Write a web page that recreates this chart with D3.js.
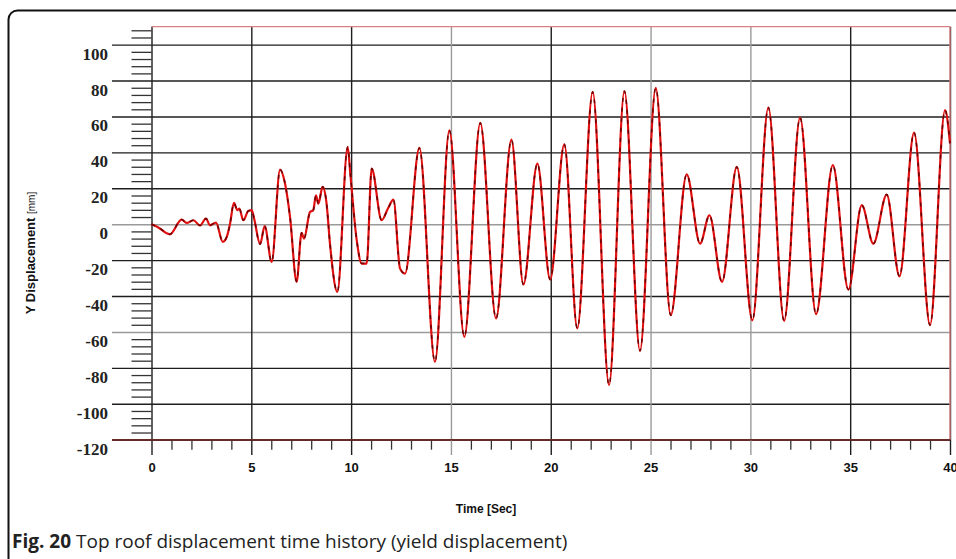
<!DOCTYPE html>
<html>
<head>
<meta charset="utf-8">
<script src="https://cdn.jsdelivr.net/npm/d3@7"></script>
<style>
  html, body { margin: 0; padding: 0; background: #fff; }
  svg { display: block; }
</style>
</head>
<body>
<svg id="chart" width="956" height="559"></svg>
<script>
// ---- data ----
const timeSec = [0, 0.3, 0.92, 1.51, 1.76, 2.1, 2.43, 2.73, 2.93, 3.23, 3.57, 3.77, 3.93, 4.13, 4.3, 4.4, 4.6, 4.85, 5.02, 5.14, 5.44, 5.67, 6.02, 6.44, 6.69, 6.94, 7.27, 7.52, 7.64, 7.94, 8.1, 8.24, 8.36, 8.57, 8.77, 8.94, 9.31, 9.83, 9.96, 10.28, 10.53, 10.78, 11.03, 11.53, 11.85, 12.12, 12.45, 12.7, 13.42, 14.2, 14.92, 15.67, 16.47, 17.26, 18.03, 18.63, 19.33, 19.97, 20.68, 21.33, 22.1, 22.92, 23.69, 24.47, 25.26, 26.01, 26.81, 27.48, 27.95, 28.58, 29.32, 30.1, 30.9, 31.69, 32.49, 33.29, 34.13, 34.91, 35.58, 36.16, 36.83, 37.47, 38.2, 39.0, 39.75, 40];
const yDisplacement = [0, -1.5, -5.6, 2.6, 0.7, 2.2, -0.7, 3.2, -0.6, 0.9, -9.8, -7, 0, 11.9, 7.8, 8.7, 2.2, 7.4, 7.8, 3.2, -11.1, -1.1, -21, 30.4, 22.6, 4, -32, -4.8, -8, 6.8, 7.8, 16.1, 11.5, 20.8, 11.5, -10.8, -37.7, 43, 28, -8.9, -21.9, -21.9, 31, 2.2, 8.9, 13.7, -24.7, -27.5, 42.5, -76.6, 52.3, -62.7, 56.4, -52.5, 47.1, -33.6, 33.8, -30.8, 44.5, -58, 73.7, -89.6, 74.1, -70.5, 75.9, -50.7, 27.8, -10.8, 5, -32.1, 31.9, -53.5, 65, -53.8, 59.4, -50.1, 32.9, -36.4, 10.6, -10.8, 16.5, -29, 51, -56.2, 63.5, 45];

const xTicks = [0, 5, 10, 15, 20, 25, 30, 35, 40];
const xMinorTicks = d3.range(1, 40).filter(d => d % 5 !== 0);
const yTicks = [100, 80, 60, 40, 20, 0, -20, -40, -60, -80, -100, -120];
const yMinorTicks = d3.range(-116, 110, 4).filter(d => d % 20 !== 0);
const grayY = [0, -60];
const grayX = [15, 25, 30];

const xTitle = "Time [Sec]";
const yTitle = "Y Displacement";
const yUnit = "[mm]";
const captionBold = "Fig. 20";
const captionText = " Top roof displacement time history (yield displacement)";

// ---- layout ----
const svg = d3.select("#chart");
const pLeft = 151.5, pRight = 950, pTop = 26.7, pBottom = 439.7;
const x = d3.scaleLinear().domain([0, 40]).range([pLeft, pRight]);
const y = d3.scaleLinear().domain([-120, 110]).range([pBottom, pTop]);

// outer rounded frame
svg.append("rect")
  .attr("x", 8.5).attr("y", 10.5).attr("width", 980).attr("height", 600)
  .attr("rx", 9).attr("ry", 9)
  .attr("fill", "none").attr("stroke", "#111").attr("stroke-width", 2);

// horizontal grid lines + y labels
const gy = svg.append("g").attr("transform", `translate(112,0)`)
  .call(d3.axisLeft(y).tickValues(yTicks).tickSize(-(pRight - 112)).tickPadding(4).tickFormat(d => String(d)));
gy.select(".domain").remove();
gy.selectAll(".tick line")
  .attr("stroke", d => d === -120 ? "#5e2a2a" : (grayY.includes(d) ? "#9a9a9a" : "#1e1e1e"))
  .attr("stroke-width", 1.4);
gy.selectAll(".tick text")
  .attr("y", 9)
  .attr("fill", "#222")
  .attr("font-family", null)
  .style("font-family", "'Liberation Serif', 'DejaVu Serif', serif")
  .style("font-weight", "bold")
  .style("font-size", "17px");

// y minor ticks
const gym = svg.append("g").attr("transform", `translate(${pLeft},0)`)
  .call(d3.axisLeft(y).tickValues(yMinorTicks).tickSize(20).tickFormat(""));
gym.select(".domain").remove();
gym.selectAll(".tick line").attr("stroke", "#333").attr("stroke-width", 1.3);

// vertical grid lines + x labels
const gx = svg.append("g").attr("transform", `translate(0,455)`)
  .call(d3.axisBottom(x).tickValues(xTicks).tickSize(-(455 - pTop)).tickPadding(8).tickFormat(d => String(d)));
gx.select(".domain").remove();
gx.selectAll(".tick line")
  .attr("stroke", d => grayX.includes(d) ? "#9a9a9a" : "#1e1e1e")
  .attr("stroke-width", 1.4);
gx.selectAll(".tick text")
  .attr("fill", "#111")
  .style("font-family", "'Liberation Sans', Arial, sans-serif")
  .style("font-weight", "bold")
  .style("font-size", "13px");

// x minor ticks
const gxm = svg.append("g").attr("transform", `translate(0,${pBottom})`)
  .call(d3.axisBottom(x).tickValues(xMinorTicks).tickSize(10).tickFormat(""));
gxm.select(".domain").remove();
gxm.selectAll(".tick line").attr("stroke", "#333").attr("stroke-width", 1.3);

// plot border (top and right, light red)
svg.append("line").attr("x1", x(0)).attr("x2", x(40)).attr("y1", y(110)).attr("y2", y(110))
  .attr("stroke", "#d98080").attr("stroke-width", 1.2);
svg.append("line").attr("x1", x(40)).attr("x2", x(40)).attr("y1", y(110)).attr("y2", y(-120))
  .attr("stroke", "#d98080").attr("stroke-width", 1.4);
// bottom axis line (dark red)
svg.append("line").attr("x1", 112).attr("x2", x(40)).attr("y1", y(-120)).attr("y2", y(-120))
  .attr("stroke", "#6a2a2a").attr("stroke-width", 1.4);

// displacement curve
const data = timeSec.map((t, i) => ({ t, v: yDisplacement[i] }));
const line = d3.line().x(d => x(d.t)).y(d => y(d.v)).curve(d3.curveMonotoneX);
svg.append("path").datum(data).attr("d", line)
  .attr("fill", "none").attr("stroke", "#e01010").attr("stroke-width", 2.2).attr("stroke-linejoin", "round");
svg.append("path").datum(data).attr("d", line)
  .attr("fill", "none").attr("stroke", "#6a0000").attr("stroke-width", 1.5).attr("stroke-dasharray", "4,6");

// axis titles
svg.append("text")
  .attr("x", 486).attr("y", 513).attr("text-anchor", "middle")
  .style("font-family", "'Liberation Sans', Arial, sans-serif").style("font-weight", "bold").style("font-size", "12px")
  .attr("fill", "#111").text(xTitle);

const yt = svg.append("text")
  .attr("transform", "translate(35,253) rotate(-90)").attr("text-anchor", "middle")
  .style("font-family", "'Liberation Sans', Arial, sans-serif").style("font-size", "13px").attr("fill", "#111");
yt.append("tspan").style("font-weight", "bold").text(yTitle + " ");
yt.append("tspan").style("font-size", "10px").text(yUnit);

// caption
const cap = svg.append("text").attr("x", 12).attr("y", 548)
  .style("font-family", "'Open Sans', 'Noto Sans', sans-serif").style("font-size", "19px").attr("fill", "#222");
cap.append("tspan").style("font-weight", "bold").text(captionBold);
cap.append("tspan").text(captionText);
</script>
</body>
</html>
